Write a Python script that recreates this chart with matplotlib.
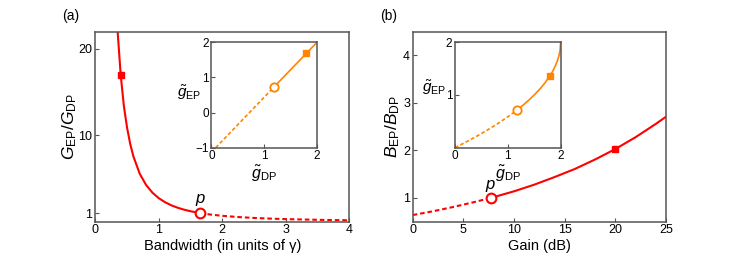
import numpy as np
import matplotlib.pyplot as plt

plt.rcParams['font.family'] = ['Liberation Sans', 'DejaVu Sans']
plt.rcParams['mathtext.fontset'] = 'custom'
plt.rcParams['mathtext.rm'] = 'Liberation Sans'
plt.rcParams['mathtext.it'] = 'Liberation Sans:italic'

# ---- data ----
# (a) main: G_EP/G_DP vs bandwidth
bw_solid = [0.35, 0.40, 0.45, 0.50, 0.55, 0.60, 0.70, 0.80, 0.90, 1.00,
            1.10, 1.20, 1.30, 1.40, 1.50, 1.65]
ratio_solid = [22.2, 17.0, 13.4, 10.9, 9.0, 7.56, 5.55, 4.25, 3.36, 2.72,
               2.25, 1.89, 1.61, 1.39, 1.21, 1.00]
bw_dash = [1.65, 1.80, 2.00, 2.25, 2.50, 2.75, 3.00, 3.25, 3.50, 3.75, 4.00]
ratio_dash = [1.00, 0.84, 0.68, 0.54, 0.435, 0.36, 0.30, 0.26, 0.22, 0.19, 0.17]
a_point = (1.65, 1.00)
a_square = (0.40, 17.0)

# (a) inset: g_EP vs g_DP
ia_x_dash = [0.08, 1.18]
ia_y_dash = [-1.0, 0.72]
ia_x_solid = [1.18, 2.0]
ia_y_solid = [0.72, 2.0]
ia_point = (1.18, 0.72)
ia_square = (1.80, 1.69)

# (b) main: B_EP/B_DP vs gain
gain_dash = [0, 2, 4, 6, 7.7]
bratio_dash = [0.64, 0.72, 0.81, 0.91, 1.00]
gain_solid = [7.7, 10, 12, 14, 16, 18, 20, 22, 24, 25]
bratio_solid = [1.00, 1.14, 1.28, 1.44, 1.61, 1.81, 2.03, 2.28, 2.56, 2.71]
b_point = (7.7, 1.00)
b_square = (20.0, 2.03)

# (b) inset
ib_x_dash = [0, 0.2, 0.4, 0.6, 0.8, 1.0, 1.17]
ib_y_dash = [0, 0.103, 0.211, 0.327, 0.451, 0.586, 0.711]
ib_x_solid = [1.17, 1.3, 1.4, 1.5, 1.6, 1.7, 1.8, 1.85, 1.9, 1.94, 1.97, 1.99, 2.0]
ib_y_solid = [0.711, 0.817, 0.905, 1.0, 1.106, 1.225, 1.368, 1.452, 1.553,
              1.654, 1.755, 1.859, 2.0]
ib_point = (1.17, 0.711)
ib_square = (1.80, 1.368)

RED = '#ff0000'
ORANGE = '#ff8400'
SPINE = '#555555'
DASH = (0, (2.2, 1.4))


def style(ax, fs):
    for s in ax.spines.values():
        s.set_color(SPINE)
        s.set_linewidth(1.1)
    ax.tick_params(direction='in', length=3, width=0.8, color=SPINE,
                   labelsize=fs, pad=2)


fig = plt.figure(figsize=(7.41, 2.75), dpi=100)

# ---- panel (a) ----
ax1 = fig.add_axes([0.1286, 0.1938, 0.3428, 0.6909])
ax1.plot(bw_solid, ratio_solid, color=RED, lw=1.5)
ax1.plot(bw_dash, ratio_dash, color=RED, lw=1.5, ls=DASH)
ax1.plot(*a_square, 's', color=RED, ms=5)
ax1.plot(*a_point, 'o', color=RED, mfc='white', mew=1.5, ms=7)
ax1.text(a_point[0], a_point[1] + 0.6, '$p$', ha='center', va='bottom', fontsize=12)
ax1.set_xlim(0, 4)
ax1.set_ylim(0, 22)
ax1.set_xticks([0, 1, 2, 3, 4])
ax1.set_yticks([1, 10, 20])
style(ax1, 9)
ax1.set_xlabel('Bandwidth (in units of γ)', fontsize=10.5, labelpad=2)
ax1.set_ylabel('$G_{\\mathrm{EP}}/G_{\\mathrm{DP}}$', fontsize=12.5, labelpad=0)
fig.text(0.095, 0.943, '(a)', fontsize=10, ha='center', va='center')

ins1 = fig.add_axes([0.2854, 0.4629, 0.1424, 0.3833])
ins1.plot(ia_x_dash, ia_y_dash, color=ORANGE, lw=1.2, ls=DASH)
ins1.plot(ia_x_solid, ia_y_solid, color=ORANGE, lw=1.2)
ins1.plot(*ia_square, 's', color=ORANGE, ms=4)
ins1.plot(*ia_point, 'o', color=ORANGE, mfc='white', mew=1.3, ms=6)
ins1.set_xlim(0, 2)
ins1.set_ylim(-1, 2)
ins1.set_xticks([0, 1, 2])
ins1.set_yticks([-1, 0, 1, 2])
style(ins1, 8.5)
ins1.set_xlabel('$\\tilde{g}_{\\mathrm{DP}}$', fontsize=11.5, labelpad=1)
ins1.set_ylabel('$\\tilde{g}_{\\mathrm{EP}}$', fontsize=11, rotation=0,
                ha='center', va='center')
ins1.yaxis.set_label_coords(-0.21, 0.52)

# ---- panel (b) ----
ax2 = fig.add_axes([0.5570, 0.1938, 0.3418, 0.6909])
ax2.plot(gain_solid, bratio_solid, color=RED, lw=1.5)
ax2.plot(gain_dash, bratio_dash, color=RED, lw=1.5, ls=DASH)
ax2.plot(*b_square, 's', color=RED, ms=5)
ax2.plot(*b_point, 'o', color=RED, mfc='white', mew=1.5, ms=7)
ax2.text(b_point[0], b_point[1] + 0.08, '$p$', ha='center', va='bottom', fontsize=12)
ax2.set_xlim(0, 25)
ax2.set_ylim(0.5, 4.5)
ax2.set_xticks([0, 5, 10, 15, 20, 25])
ax2.set_yticks([1, 2, 3, 4])
style(ax2, 9)
ax2.set_xlabel('Gain (dB)', fontsize=10.5, labelpad=2)
ax2.set_ylabel('$B_{\\mathrm{EP}}/B_{\\mathrm{DP}}$', fontsize=12.5, labelpad=1)
fig.text(0.525, 0.943, '(b)', fontsize=10, ha='center', va='center')

ins2 = fig.add_axes([0.6140, 0.4629, 0.1426, 0.3833])
ins2.plot(ib_x_dash, ib_y_dash, color=ORANGE, lw=1.2, ls=DASH)
ins2.plot(ib_x_solid, ib_y_solid, color=ORANGE, lw=1.2)
ins2.plot(*ib_square, 's', color=ORANGE, ms=4)
ins2.plot(*ib_point, 'o', color=ORANGE, mfc='white', mew=1.3, ms=6)
ins2.set_xlim(0, 2)
ins2.set_ylim(0, 2)
ins2.set_xticks([0, 1, 2])
ins2.set_yticks([1, 2])
style(ins2, 8.5)
ins2.set_xlabel('$\\tilde{g}_{\\mathrm{DP}}$', fontsize=11.5, labelpad=1)
ins2.set_ylabel('$\\tilde{g}_{\\mathrm{EP}}$', fontsize=11, rotation=0,
                ha='center', va='center')
ins2.yaxis.set_label_coords(-0.2, 0.57)

fig.savefig('out.png', dpi=100)
